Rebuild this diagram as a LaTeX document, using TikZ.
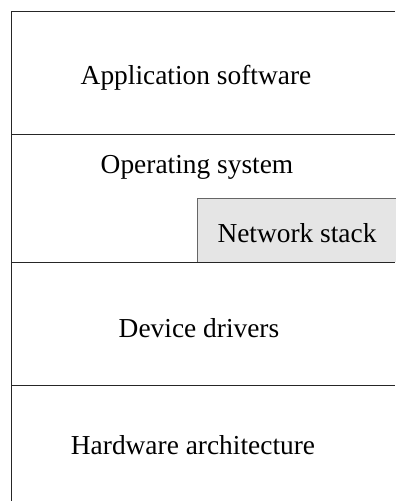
\documentclass[tikz,border=0pt]{standalone}
\usepackage{fontspec}
\setmainfont{Liberation Serif}
\begin{document}
\begin{tikzpicture}[x=1bp,y=-1bp,
  layerline/.style={draw=black!85,line width=0.9bp},
  lbl/.style={font=\fontsize{27.5}{32}\selectfont,inner sep=0pt,text=black}]
\useasboundingbox (0,0) rectangle (395,501);
\fill[white] (0,0) rectangle (395,501);
% network stack box (open to the right edge)
\node[fill=black!10,minimum width=200bp,minimum height=64bp,anchor=north west,inner sep=0pt] (ns) at (197,198) {};
\draw[draw=black!60,line width=0.6bp] (ns.south west) -- (ns.north west) -- (ns.north east);
% lines
\draw[layerline] (395,11) -- (11,11) -- (11,501);
\draw[layerline] (11,134) -- (395,134);
\draw[layerline] (11,262) -- (395,262);
\draw[layerline] (11,385) -- (395,385);
% labels
\node[lbl] (app) at (196,78) {Application software};
\node[lbl] (os) at (197,167) {Operating system};
\node[lbl] (nst) at (297,233) {Network stack};
\node[lbl] (dd) at (199,328) {Device drivers};
\node[lbl] (hw) at (193,445) {Hardware architecture};
\end{tikzpicture}
\end{document}
